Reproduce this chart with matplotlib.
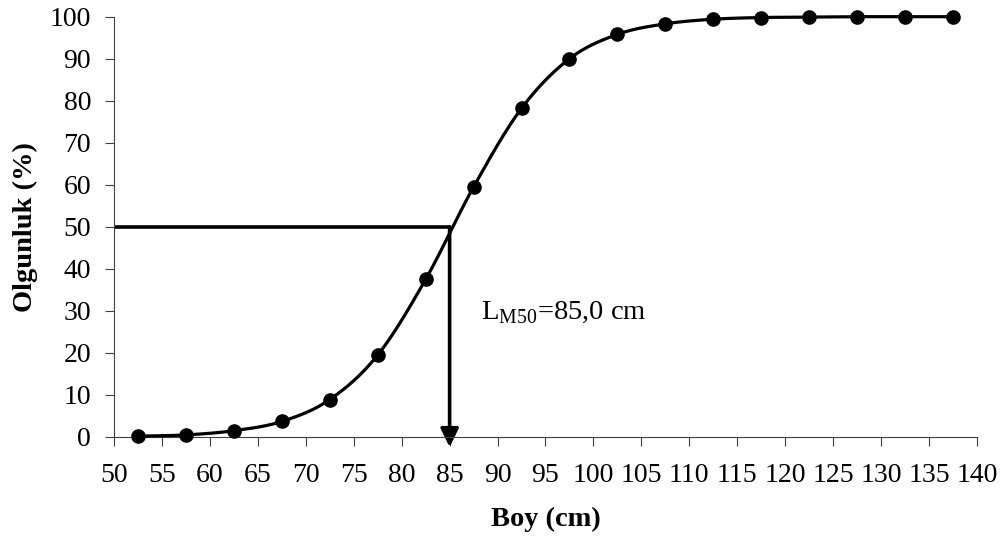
import numpy as np
import matplotlib
matplotlib.use("Agg")
import matplotlib.pyplot as plt

# Length classes (cm) and percentage of mature individuals
boy = [52.5, 57.5, 62.5, 67.5, 72.5, 77.5, 82.5, 87.5, 92.5, 97.5,
       102.5, 107.5, 112.5, 117.5, 122.5, 127.5, 132.5, 137.5]
olgunluk = [0.2, 0.5, 1.5, 3.7, 8.9, 19.5, 37.5, 59.5, 78.2, 90.0,
            95.8, 98.3, 99.4, 99.8, 99.9, 100.0, 100.0, 100.0]

lm50 = 85.0
lm50_pct = 50

x_ticks = list(range(50, 141, 5))
y_ticks = list(range(0, 101, 10))

plt.rcParams["font.family"] = ["Liberation Serif", "DejaVu Serif"]


def catmull_rom(xs, ys, n=30):
    """Smooth line through the points (Catmull-Rom spline) for drawing."""
    P = np.column_stack([xs, ys]).astype(float)
    P = np.vstack([2 * P[0] - P[1], P, 2 * P[-1] - P[-2]])
    out = []
    t = np.linspace(0, 1, n, endpoint=False)[:, None]
    for i in range(1, len(P) - 2):
        p0, p1, p2, p3 = P[i - 1], P[i], P[i + 1], P[i + 2]
        seg = 0.5 * ((2 * p1) + (-p0 + p2) * t
                     + (2 * p0 - 5 * p1 + 4 * p2 - p3) * t ** 2
                     + (-p0 + 3 * p1 - 3 * p2 + p3) * t ** 3)
        out.append(seg)
    out.append(P[-2][None, :])
    out = np.vstack(out)
    return out[:, 0], out[:, 1]


fig = plt.figure(figsize=(10.03, 5.37), dpi=100)
ax = fig.add_axes([114 / 1003, 1 - 437 / 537, (977 - 114) / 1003, (437 - 16.7) / 537])

sx, sy = catmull_rom(boy, olgunluk)
ax.plot(sx, sy, color="black", lw=2.3, solid_capstyle="round", zorder=3, clip_on=False)
ax.plot(boy, olgunluk, "o", color="black", ms=9.5, zorder=4, clip_on=False)

# L50 guide lines
ax.plot([x_ticks[0], lm50], [lm50_pct, lm50_pct], color="black", lw=2.6, zorder=2,
        solid_capstyle="butt")
ax.annotate("", xy=(lm50, -2.4), xytext=(lm50, lm50_pct),
            arrowprops=dict(arrowstyle="-|>,head_length=0.55,head_width=0.27",
                            mutation_scale=20, lw=2.6, color="black",
                            shrinkA=0, shrinkB=0),
            annotation_clip=False, zorder=2)

ax.text(88.3, 29.5, r"L$_{\mathregular{M50}}$=85,0 cm", fontsize=20.5,
        va="center", ha="left")

ax.set_xlim(50, 140)
ax.set_ylim(0, 100)
ax.set_xticks(x_ticks)
ax.set_yticks(y_ticks)
ax.tick_params(axis="both", direction="out", length=6.5, width=0.8,
               labelsize=20, color="#404040")
ax.tick_params(axis="y", pad=10)
ax.tick_params(axis="x", pad=12)
for side in ("top", "right"):
    ax.spines[side].set_visible(False)
for side in ("left", "bottom"):
    ax.spines[side].set_linewidth(0.8)
    ax.spines[side].set_color("#404040")

ax.set_xlabel("Boy (cm)", fontsize=20.5, fontweight="bold")
ax.set_ylabel("Olgunluk (%)", fontsize=20.5, fontweight="bold")
ax.xaxis.set_label_coords(0.5, -0.195)
ax.xaxis.label.set_va("center")
ax.yaxis.set_label_coords(-0.103, 0.5)
ax.yaxis.label.set_va("center")

fig.savefig("out.png", dpi=100)
